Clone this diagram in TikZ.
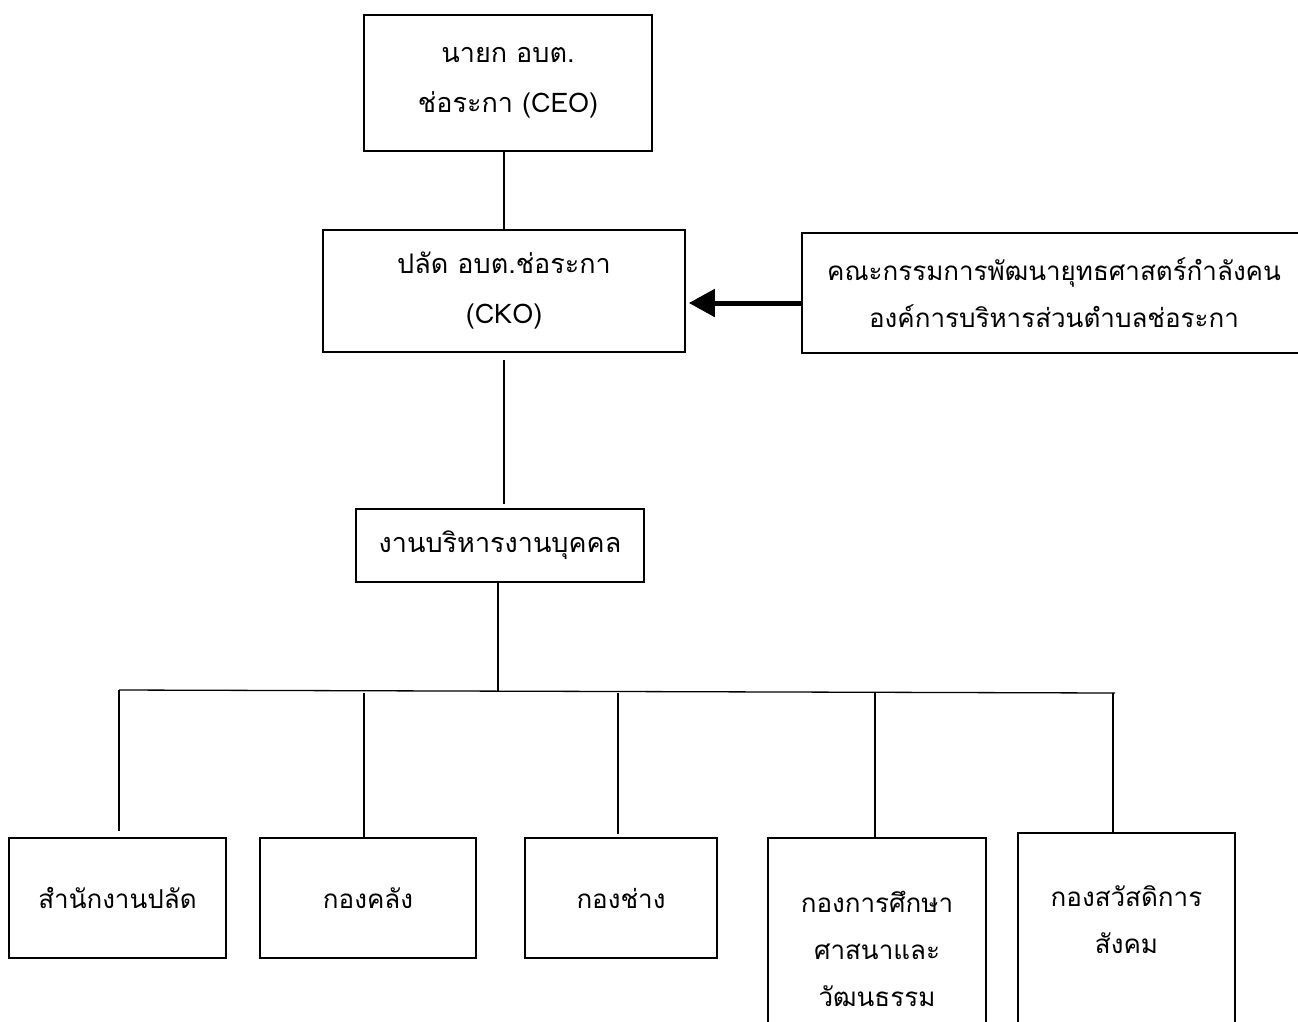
\documentclass[tikz,border=0pt]{standalone}
\usepackage{fontspec}
\setmainfont[Script=Thai]{Loma}
\usetikzlibrary{arrows.meta,calc}
\begin{document}
\begin{tikzpicture}[x=1pt,y=-1pt,
  box/.style={draw, line width=1.6pt, rectangle, inner sep=0pt, align=center},
  conn/.style={line width=1.3pt},
  toptext/.style={font=\fontsize{27}{50}\selectfont},
  bottext/.style={font=\fontsize{26}{47}\selectfont},
  bigarrow/.style={line width=5pt, -{Triangle[length=26pt,width=27pt]}},
]
\useasboundingbox (0,0) rectangle (1298,1021);
\clip (0,0) rectangle (1298,1021);

% upper chain
\node[box, toptext, minimum width=288pt, minimum height=136pt] (ceo) at (508,83)
  {นายก อบต.\\ช่อระกา (CEO)};
\node[box, toptext, minimum width=362pt, minimum height=122pt] (cko) at (504,291)
  {ปลัด อบต.ช่อระกา\\(CKO)};
\node[box, toptext, minimum width=288pt, minimum height=73pt] (hr) at (500,545.5)
  {งานบริหารงานบุคคล};
\node[box, bottext, minimum width=504pt, minimum height=120pt] (com) at (1054,293)
  {คณะกรรมการพัฒนายุทธศาสตร์กำลังคน\\องค์การบริหารส่วนตำบลช่อระกา};

% bottom boxes
\node[box, bottext, minimum width=217pt, minimum height=120pt] (b1) at (117.5,898) {สำนักงานปลัด};
\node[box, bottext, minimum width=216pt, minimum height=120pt] (b2) at (368,898) {กองคลัง};
\node[box, bottext, minimum width=192pt, minimum height=120pt] (b3) at (621,898) {กองช่าง};
\node[box, bottext, minimum width=218pt, minimum height=222pt] (b4) at (877,949)
  {กองการศึกษา\\ศาสนาและ\\วัฒนธรรม};
\node[box, minimum width=217pt, minimum height=240pt, anchor=north] (b5) at (1126.5,832) {};
\node[bottext, align=center, inner sep=0pt] (b5t) at (1126.5,920) {กองสวัสดิการ\\สังคม};

% connectors
\draw[conn] (cko.north |- ceo.south) -- (cko.north);
\draw[conn] ($(cko.south)+(0,7)$) -- ($(cko.south |- hr.north)+(0,-4)$);

\coordinate (busL) at (119,690);
\coordinate (busR) at (1115,693);
\coordinate (busM) at (498,691);
\coordinate (d2) at (364,693);
\coordinate (d3) at (618,693);
\coordinate (d4) at (875,692);
\coordinate (d5) at (1113,693);
\draw[conn] (busL) -- (busR);
\draw[conn] (busM |- hr.south) -- (busM);

\draw[conn] (busL) -- ($(busL |- b1.north)+(0,-6)$);
\draw[conn] (d2) -- (d2 |- b2.north);
\draw[conn] (d3) -- ($(d3 |- b3.north)+(0,-3)$);
\draw[conn] (d4) -- (d4 |- b4.north);
\draw[conn] (d5) -- (d5 |- b5.north);

% arrow
\coordinate (arrS) at ([yshift=-10pt]com.west);
\draw[bigarrow, shorten >=3pt] (arrS) -- (cko.east |- arrS);
\end{tikzpicture}
\end{document}
